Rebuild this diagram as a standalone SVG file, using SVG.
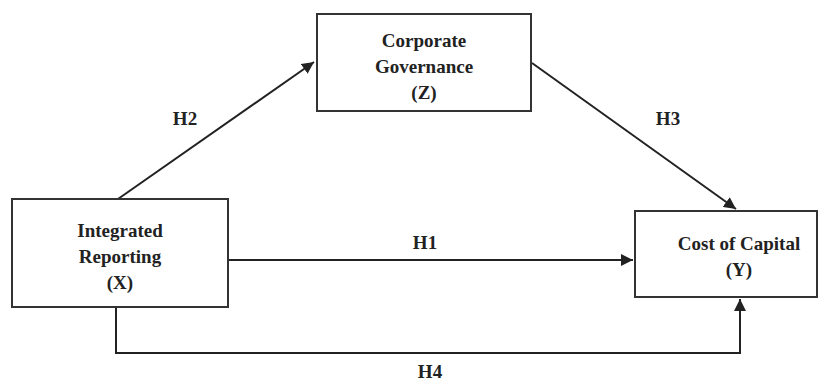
<svg xmlns="http://www.w3.org/2000/svg" width="830" height="383" viewBox="0 0 830 383">
<style>
.box{fill:#fff;stroke:#333;stroke-width:2}
.t{font-family:"Liberation Serif","Times New Roman",serif;font-weight:bold;font-size:19px;fill:#222;text-anchor:middle}
.c{fill:none;stroke:#222;stroke-width:2}
</style>
<defs>
<marker id="a" viewBox="0 0 10 10" refX="10" refY="5" markerWidth="6" markerHeight="6" orient="auto" markerUnits="strokeWidth"><path d="M0,0L10,5L0,10z" fill="#222"/></marker>
</defs>
<rect width="830" height="383" fill="#fff"/>
<g id="connectors">
<line class="c" x1="118" y1="199" x2="314" y2="62" marker-end="url(#a)"/>
<line class="c" x1="532" y1="63" x2="736" y2="209" marker-end="url(#a)"/>
<line class="c" x1="228" y1="260" x2="633" y2="260" marker-end="url(#a)"/>
<polyline class="c" points="116,307 116,353 740,353 740,299" marker-end="url(#a)"/>
<text class="t" x="185" y="125">H2</text>
<text class="t" x="668" y="125">H3</text>
<text class="t" x="425" y="249">H1</text>
<text class="t" x="430" y="378">H4</text>
</g>
<g id="Z">
<rect class="box" x="317" y="14" width="214" height="97"/>
<text class="t" x="424" y="47">Corporate</text>
<text class="t" x="424" y="73">Governance</text>
<text class="t" x="424" y="99">(Z)</text>
</g>
<g id="X">
<rect class="box" x="12" y="199" width="216" height="108"/>
<text class="t" x="120" y="237">Integrated</text>
<text class="t" x="120" y="263">Reporting</text>
<text class="t" x="120" y="289">(X)</text>
</g>
<g id="Y">
<rect class="box" x="635" y="211" width="182" height="86"/>
<text class="t" x="739" y="250">Cost of Capital</text>
<text class="t" x="739" y="276">(Y)</text>
</g>
</svg>
